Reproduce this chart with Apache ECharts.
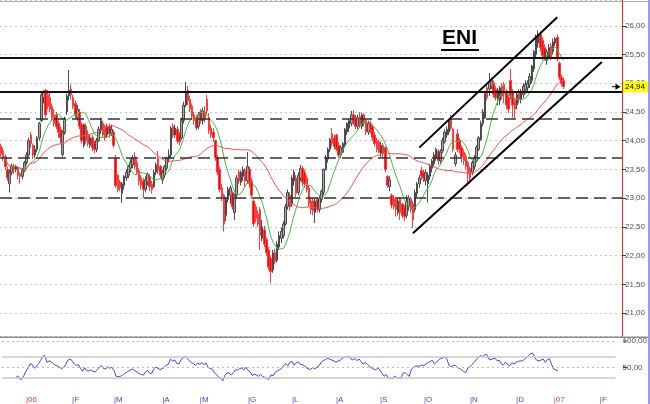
<!DOCTYPE html>
<html><head><meta charset="utf-8">
<script src="https://cdn.jsdelivr.net/npm/echarts/dist/echarts.min.js"></script>
<style>html,body{margin:0;padding:0;background:#fff}#c{width:650px;height:404px}</style>
</head><body><div id="c"></div>
<script>
// ENI daily candles, Dec 2005 - Jan 2007
const candleOpen = [23.90,23.82,23.72,23.50,23.25,23.45,23.55,23.50,23.52,23.42,23.38,23.48,23.62,23.75,24.10,23.92,23.75,23.85,24.05,24.35,24.75,24.88,24.80,24.75,24.60,24.45,24.45,24.30,24.20,23.76,24.14,24.50,24.78,24.90,24.75,24.65,24.40,24.50,24.28,23.92,24.25,24.10,23.92,24.05,23.95,23.85,24.00,24.18,24.30,24.25,24.10,24.25,24.12,24.15,23.70,23.40,23.28,23.08,23.22,23.35,23.40,23.52,23.58,23.72,23.62,23.48,23.35,23.30,23.15,23.28,23.38,23.25,23.20,23.45,23.70,23.55,23.32,23.40,23.52,23.68,23.75,24.25,24.10,24.20,24.10,24.05,24.35,24.62,24.88,24.72,24.60,24.45,24.40,24.25,24.50,24.35,24.50,24.72,24.40,24.22,24.15,24.00,23.70,23.50,23.18,23.05,22.70,22.98,23.05,23.10,22.75,23.05,23.45,23.28,23.38,23.48,23.30,23.50,23.30,22.95,22.85,22.72,22.80,22.30,22.45,22.28,22.10,21.95,21.75,22.05,21.92,22.15,22.30,22.35,22.55,22.85,23.05,22.90,23.30,23.35,23.10,23.35,23.52,23.45,23.35,23.18,22.95,22.95,22.75,22.98,22.80,22.98,23.10,23.50,23.68,23.85,24.12,24.05,24.10,23.92,23.75,23.80,23.92,24.15,24.22,24.30,24.45,24.40,24.25,24.42,24.25,24.45,24.35,24.15,24.30,24.25,24.10,24.00,23.98,23.78,23.92,23.88,23.38,23.20,23.05,23.00,22.98,22.75,22.98,22.90,22.85,22.70,22.85,22.98,22.90,22.80,23.08,23.25,23.48,23.45,23.30,23.25,23.38,23.52,23.60,23.70,23.82,23.65,23.82,23.98,24.10,24.15,24.38,24.20,23.60,24.12,24.00,23.88,23.80,23.72,23.62,23.52,23.45,23.55,23.65,23.85,24.02,24.30,24.40,24.92,24.90,24.95,25.00,24.90,24.72,24.70,24.95,24.98,24.85,24.75,25.05,24.85,24.70,24.62,24.85,24.72,24.80,24.88,24.92,24.98,25.05,25.25,25.50,25.70,25.85,25.75,25.62,25.40,25.45,25.65,25.55,25.70,25.80,25.35,25.10,25.05];
const candleClose = [23.78,23.70,23.55,23.35,23.45,23.55,23.50,23.55,23.40,23.38,23.48,23.62,23.75,24.00,23.95,23.75,23.85,24.05,24.30,24.80,24.85,24.45,24.60,24.55,24.40,24.30,24.25,24.15,24.05,24.14,24.38,24.78,24.88,24.80,24.60,24.45,24.55,24.25,24.00,24.28,24.00,23.95,24.05,23.88,23.85,24.00,24.20,24.35,24.10,24.05,24.25,24.12,24.20,23.92,23.22,23.15,23.18,23.25,23.38,23.45,23.55,23.62,23.70,23.55,23.45,23.30,23.22,23.15,23.32,23.42,23.20,23.15,23.45,23.58,23.48,23.40,23.45,23.55,23.70,23.75,24.22,24.10,24.22,24.00,23.98,24.35,24.62,24.85,24.70,24.55,24.42,24.35,24.22,24.45,24.35,24.52,24.38,24.52,24.18,24.10,24.05,23.70,23.45,23.15,23.02,22.55,22.98,23.15,23.18,22.85,23.05,23.35,23.30,23.45,23.50,23.30,23.55,23.25,23.05,22.55,22.65,22.55,22.35,22.50,22.20,22.05,21.80,21.72,22.05,21.90,22.20,22.35,22.42,22.55,22.85,23.10,22.85,23.35,23.45,23.08,23.40,23.52,23.28,23.25,23.15,22.90,22.80,22.78,22.95,22.80,23.00,23.12,23.50,23.70,23.85,24.02,23.95,23.90,23.85,23.75,23.88,23.95,24.20,24.30,24.35,24.45,24.32,24.25,24.40,24.28,24.45,24.30,24.15,24.30,24.18,24.05,23.95,23.85,23.80,23.92,23.78,23.50,23.22,23.32,22.88,22.85,22.80,22.95,22.75,22.70,22.68,22.95,23.00,22.80,22.62,23.10,23.25,23.35,23.38,23.35,23.45,23.40,23.55,23.65,23.75,23.85,23.65,23.80,24.00,24.15,24.20,24.35,24.22,23.85,23.75,23.85,23.85,23.72,23.65,23.55,23.42,23.35,23.62,23.70,23.88,24.05,24.30,24.50,24.82,24.75,25.02,25.05,24.80,24.75,24.88,24.92,24.78,24.82,24.62,24.55,24.78,24.62,24.55,24.80,24.72,24.85,24.95,24.98,25.00,25.12,25.30,25.55,25.80,25.85,25.62,25.48,25.45,25.55,25.62,25.45,25.72,25.78,25.42,25.10,25.00,24.94];
const candleLow = [23.72,23.65,23.50,23.30,23.10,23.40,23.42,23.45,23.33,23.25,23.33,23.45,23.58,23.72,23.88,23.68,23.70,23.80,24.00,24.32,24.65,24.40,24.55,24.50,24.35,24.25,24.20,24.05,23.95,23.72,24.10,24.45,24.70,24.72,24.55,24.38,24.35,24.20,23.95,23.88,23.95,23.90,23.88,23.82,23.78,23.80,23.98,24.12,24.05,24.00,24.05,24.05,24.08,23.88,23.18,23.10,23.12,22.92,23.15,23.30,23.35,23.45,23.52,23.50,23.40,23.22,23.15,23.00,23.10,23.22,23.12,23.08,23.18,23.40,23.42,23.35,23.25,23.35,23.48,23.62,23.70,24.05,24.05,23.95,23.92,24.02,24.30,24.58,24.62,24.50,24.38,24.28,24.18,24.20,24.30,24.28,24.32,24.45,24.12,24.05,23.98,23.65,23.40,23.10,22.95,22.42,22.60,22.92,22.90,22.80,22.62,23.00,23.25,23.22,23.30,23.20,23.25,23.18,23.00,22.50,22.58,22.50,22.10,22.25,22.15,22.00,21.75,21.52,21.70,21.85,21.88,22.10,22.22,22.30,22.52,22.80,22.78,22.85,23.22,23.02,23.05,23.30,23.20,23.18,23.10,22.85,22.72,22.70,22.57,22.75,22.75,22.92,23.05,23.48,23.62,23.80,23.90,23.85,23.82,23.70,23.70,23.78,23.88,24.10,24.15,24.25,24.28,24.20,24.20,24.22,24.20,24.25,24.10,24.10,24.12,24.00,23.90,23.80,23.78,23.72,23.70,23.45,23.18,23.12,22.82,22.80,22.68,22.70,22.62,22.65,22.60,22.65,22.78,22.75,22.48,22.75,23.02,23.18,23.32,23.28,23.22,22.92,23.32,23.45,23.55,23.65,23.58,23.60,23.78,23.95,24.05,24.10,24.18,23.80,23.55,23.80,23.78,23.62,23.58,23.50,23.22,23.25,23.40,23.50,23.62,23.82,24.00,24.25,24.38,24.70,24.78,24.90,24.75,24.70,24.62,24.62,24.72,24.65,24.55,24.48,24.72,24.40,24.38,24.55,24.65,24.65,24.75,24.82,24.85,24.92,25.00,25.20,25.45,25.62,25.55,25.40,25.40,25.32,25.42,25.40,25.50,25.65,25.38,25.05,24.95,24.90];
const candleHigh = [23.95,23.88,23.76,23.55,23.50,23.60,23.60,23.58,23.55,23.45,23.52,23.65,23.80,24.05,24.15,23.95,23.92,24.08,24.33,24.85,24.88,24.90,24.88,24.85,24.65,24.55,24.50,24.35,24.25,24.18,24.42,24.82,25.23,24.98,24.80,24.70,24.62,24.55,24.32,24.30,24.30,24.18,24.12,24.10,24.00,24.05,24.25,24.40,24.35,24.28,24.30,24.30,24.28,24.18,23.75,23.42,23.32,23.28,23.40,23.50,23.58,23.68,23.75,23.80,23.68,23.52,23.40,23.35,23.38,23.45,23.42,23.30,23.50,23.62,23.82,23.58,23.50,23.58,23.72,23.85,24.25,24.30,24.28,24.25,24.15,24.40,24.68,25.02,24.95,24.78,24.65,24.50,24.45,24.50,24.55,24.58,24.60,24.80,24.48,24.28,24.22,24.02,23.75,23.55,23.25,23.08,23.02,23.20,23.22,23.12,23.08,23.40,23.50,23.48,23.55,23.52,23.80,23.55,23.35,22.98,22.90,22.78,22.85,22.62,22.52,22.32,22.15,22.00,22.10,22.12,22.25,22.42,22.48,22.60,22.90,23.15,23.10,23.40,23.50,23.40,23.45,23.58,23.56,23.50,23.40,23.22,23.00,23.00,23.00,23.02,23.05,23.15,23.52,23.75,23.88,24.05,24.22,24.10,24.12,23.98,23.92,23.98,24.22,24.32,24.38,24.52,24.53,24.45,24.45,24.50,24.48,24.48,24.38,24.35,24.35,24.28,24.15,24.05,24.02,23.98,23.96,23.90,23.40,23.38,23.08,23.05,23.02,23.00,23.02,22.92,22.88,23.05,23.05,23.02,22.95,23.15,23.28,23.40,23.55,23.50,23.50,23.45,23.60,23.68,23.80,23.88,23.85,23.85,24.05,24.20,24.25,24.38,24.45,24.22,23.80,24.20,24.05,23.92,23.85,23.78,23.65,23.55,23.65,23.75,23.92,24.08,24.35,24.55,24.85,24.98,25.18,25.10,25.05,24.95,24.92,24.95,25.00,25.02,24.90,24.80,25.25,24.90,24.75,24.85,24.90,24.90,25.00,25.05,25.05,25.18,25.32,25.58,25.85,25.92,25.90,25.80,25.68,25.60,25.68,25.70,25.78,25.80,25.85,25.38,25.15,25.10];

const monthLabels = ['|06','|F','|M','|A','|M','|G','|L','|A','|S','|O','|N','|D','|07','|F'];
const monthIndex  = [11,33,53,76,94,117,138,159,180,201,223,245,263,285];
const yearLabels  = ['|06','|07'];
const slotCount = 293;

const priceTicks = [21,21.5,22,22.5,23,23.5,24,24.5,25,25.5,26];
const solidLevels = [25.45, 24.85];
const dashedLevels = [24.38, 23.70, 23.01];
const upperChannel = [[197, 23.88], [262, 26.15]];
const lowerChannel = [[194, 22.39], [283, 25.37]];
const lastPrice = 24.94;
const titleText = 'ENI';
const shortMA = 10, longMA = 40, rsiPeriod = 14;
const rsiSolidLevels = [70, 30];
const rsiDottedLevels = [100, 50];
const rsiLabelLevels = [100, 50];

// ---- derived ----
const n = candleClose.length;
const ohlc = candleOpen.map((o, i) => [o, candleClose[i], candleLow[i], candleHigh[i]]);
const slots = Array.from({length: slotCount}, (_, i) => String(i));
const labelAt = {};
monthIndex.forEach((k, j) => { labelAt[k] = monthLabels[j]; });

function sma(p) {
  return candleClose.map((_, i) => {
    const s = Math.max(0, i - p + 1); let t = 0;
    for (let k = s; k <= i; k++) t += candleClose[k];
    return +(t / (i - s + 1)).toFixed(4);
  });
}
function rsi(p) {
  const out = [null]; let ag = 0, al = 0;
  for (let i = 1; i < n; i++) {
    const d = candleClose[i] - candleClose[i - 1];
    const g = Math.max(d, 0), l = Math.max(-d, 0);
    if (i <= p) { ag = (ag * (i - 1) + g) / i; al = (al * (i - 1) + l) / i; }
    else { ag = (ag * (p - 1) + g) / p; al = (al * (p - 1) + l) / p; }
    const v = al === 0 ? 100 : 100 - 100 / (1 + ag / al);
    out.push(i < 6 ? null : +v.toFixed(2));
  }
  return out;
}
const fmt = v => v.toFixed(2).replace('.', ',');

const chart = echarts.init(document.getElementById('c'), null, {renderer: 'canvas'});
const FONT = 'Liberation Sans, Arial, sans-serif';

const option = {
  animation: false,
  backgroundColor: '#ffffff',
  grid: [
    {left: 0, top: 0, width: 622, height: 336},
    {left: 0, top: 341, width: 622, height: 53.4}
  ],
  xAxis: [
    {type: 'category', gridIndex: 0, data: slots, boundaryGap: true,
     axisLine: {show: false}, axisTick: {show: false}, axisLabel: {show: false}, splitLine: {show: false}},
    {type: 'category', gridIndex: 1, data: slots, boundaryGap: true,
     axisLine: {show: false}, axisTick: {show: false}, splitLine: {show: false},
     axisLabel: {interval: 0, margin: 2, align: 'left',
       formatter: (v, i) => { const t = labelAt[i]; if (!t) return ''; return yearLabels.includes(t) ? '{y|' + t + '}' : '{m|' + t + '}'; },
       rich: {y: {color: '#e03c3c', fontSize: 8, fontFamily: FONT}, m: {color: '#4848d0', fontSize: 8, fontFamily: FONT}}}}
  ],
  yAxis: [
    {type: 'value', gridIndex: 0, position: 'right', min: 20.6, max: 26.45,
     minInterval: 0.5, maxInterval: 0.5, splitNumber: 12,
     axisLine: {show: true, lineStyle: {color: '#ff2020', width: 1}},
     axisTick: {show: true, length: 4, lineStyle: {color: '#444'}},
     axisLabel: {showMinLabel: false, showMaxLabel: false, margin: 3, color: '#505050', fontSize: 8, fontFamily: FONT,
       formatter: v => priceTicks.includes(+v.toFixed(2)) ? fmt(v) : ''},
     splitLine: {show: true, lineStyle: {color: '#c8c8c8', type: [2, 3], width: 1}}},
    {type: 'value', gridIndex: 1, position: 'right', min: 0, max: 100, interval: 50,
     axisLine: {show: false},
     axisTick: {show: false},
     axisLabel: {margin: 7, color: '#505050', fontSize: 8, fontFamily: FONT, formatter: v => rsiLabelLevels.includes(v) ? fmt(v) : ''},
     splitLine: {show: false}}
  ],
  series: [
    {type: 'candlestick', xAxisIndex: 0, yAxisIndex: 0, data: ohlc, barWidth: 2,
     itemStyle: {color: '#a8a8a8', color0: '#ff0000', borderColor: '#4a4a4a', borderColor0: '#ff3a3a', borderWidth: 1},
     markLine: {silent: true, symbol: 'none', label: {show: false}, animation: false,
       data: [
         ...solidLevels.map(v => ({yAxis: v, lineStyle: {color: '#111', width: 2, type: 'solid'}})),
         ...dashedLevels.map(v => ({yAxis: v, lineStyle: {color: '#333', width: 1.5, type: [12, 6]}})),
         [{coord: upperChannel[0]}, {coord: upperChannel[1], lineStyle: {color: '#000', width: 2, type: 'solid'}}],
         [{coord: lowerChannel[0]}, {coord: lowerChannel[1], lineStyle: {color: '#000', width: 2, type: 'solid'}}]
       ]}},
    {type: 'line', xAxisIndex: 0, yAxisIndex: 0, data: sma(shortMA), symbol: 'none', smooth: false,
     lineStyle: {color: '#44bb44', width: 1}, z: 3},
    {type: 'line', xAxisIndex: 0, yAxisIndex: 0, data: sma(longMA), symbol: 'none', smooth: false,
     lineStyle: {color: '#ff4a4a', width: 1}, z: 3},
    {type: 'line', xAxisIndex: 1, yAxisIndex: 1, data: rsi(rsiPeriod), symbol: 'none',
     lineStyle: {color: '#4040ff', width: 1},
     markLine: {silent: true, symbol: 'none', label: {show: false}, animation: false,
       data: [
         ...rsiDottedLevels.map(v => ({yAxis: v, lineStyle: {color: '#b8b8b8', width: 1, type: [2, 3]}})),
         ...rsiSolidLevels.map(v => ({yAxis: v, lineStyle: {color: '#c8c8c8', width: 1.5, type: 'solid'}}))
       ]}}
  ]
};
chart.setOption(option);

const py = chart.convertToPixel({gridIndex: 0}, [0, lastPrice])[1];
const rsiTickY = rsiLabelLevels.map(v => chart.convertToPixel({gridIndex: 1}, [0, v])[1]);
chart.setOption({graphic: [
  {type: 'rect', shape: {x: 0, y: 1, width: 648, height: 1}, style: {fill: '#b0b0b0'}, silent: true},
  {type: 'rect', shape: {x: 0, y: 336.5, width: 648, height: 1.5}, style: {fill: '#8c8c8c'}, silent: true},
  {type: 'rect', shape: {x: 648, y: 0, width: 2, height: 404}, style: {fill: '#9a9aee'}, silent: true},
  ...rsiTickY.map(y => ({type: 'rect', shape: {x: 623, y: y - 0.5, width: 4, height: 1}, style: {fill: '#444'}, silent: true})),
  {type: 'rect', shape: {x: 623, y: py - 5.5, width: 25, height: 11}, style: {fill: '#ffff00'}, silent: true, z: 10},
  {type: 'text', x: 625, y: py, style: {text: fmt(lastPrice), fill: '#000', font: '8px ' + FONT, verticalAlign: 'middle'}, z: 11},
  {type: 'polygon', shape: {points: [[615.5, py - 3], [620.5, py], [615.5, py + 3]]}, style: {fill: '#000'}, z: 11},
  {type: 'rect', shape: {x: 612, y: py - 0.5, width: 4, height: 1}, style: {fill: '#000'}, z: 11},
  {type: 'text', x: 442, y: 28, style: {text: titleText, fill: '#000', font: 'bold 21px ' + FONT}, z: 12},
  {type: 'rect', shape: {x: 441, y: 49, width: 38, height: 2}, style: {fill: '#000'}, z: 12}
]});
</script>
</body></html>
